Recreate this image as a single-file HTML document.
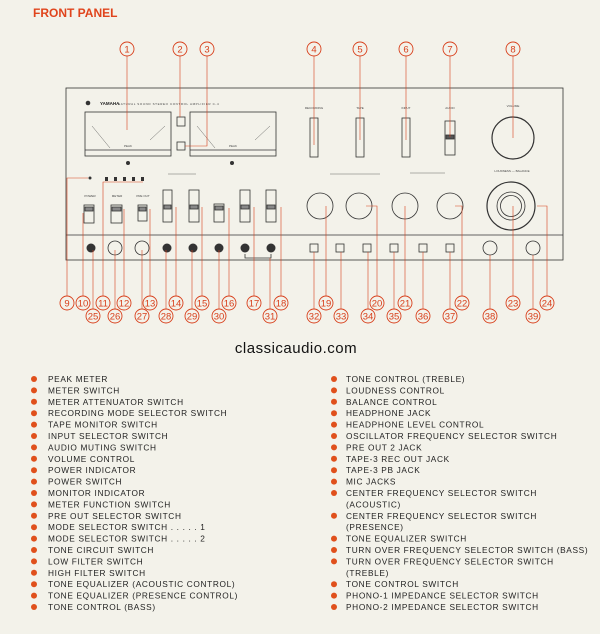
<!DOCTYPE html>
<html><head><meta charset="utf-8"><style>
html,body{margin:0;padding:0;background:#f3f2ea;}
svg{display:block}
.t{font-family:"Liberation Sans",sans-serif;font-size:8.3px;letter-spacing:0.65px;fill:#222}
.n{font-family:"Liberation Sans",sans-serif;font-size:9.5px;fill:#d8401c;text-anchor:middle}
.s{font-family:"Liberation Sans",sans-serif;font-size:3px;fill:#444;text-anchor:middle}
</style></head><body>
<svg width="600" height="634" viewBox="0 0 600 634" xmlns="http://www.w3.org/2000/svg">
<rect width="600" height="634" fill="#f3f2ea"/>
<text x="33" y="17" font-family="Liberation Sans,sans-serif" font-weight="bold" font-size="12" fill="#e0441c">FRONT PANEL</text>

<g stroke="#333" fill="none" stroke-width="0.8">
<rect x="66" y="88" width="497" height="172"/>
<line x1="66" y1="235" x2="563" y2="235"/>
<rect x="85" y="112" width="86" height="44"/><line x1="85" y1="150" x2="171" y2="150"/>
<rect x="190" y="112" width="86" height="44"/><line x1="190" y1="150" x2="276" y2="150"/>
<rect x="177" y="117" width="8" height="9"/><rect x="177" y="142" width="8" height="8"/>
<rect x="310" y="118" width="8" height="39"/><rect x="356" y="118" width="8" height="39"/>
<rect x="402" y="118" width="8" height="39"/><rect x="445" y="121" width="10" height="34"/>
<rect x="446" y="135" width="8" height="4" fill="#555"/>
<circle cx="513" cy="138" r="21" stroke-width="1.2"/>
<rect x="84" y="205" width="10" height="18"/><rect x="111" y="205" width="11" height="18"/>
<rect x="138" y="205" width="9" height="16"/>
<rect x="163" y="190" width="9" height="32"/><rect x="189" y="190" width="10" height="32"/>
<rect x="214" y="204" width="10" height="18"/>
<rect x="240" y="190" width="10" height="32"/><rect x="266" y="190" width="10" height="32"/>
<rect x="164" y="205" width="7" height="4" fill="#888"/><rect x="190" y="205" width="8" height="4" fill="#888"/>
<rect x="215" y="206" width="8" height="4" fill="#888"/><rect x="241" y="205" width="8" height="4" fill="#888"/>
<rect x="267" y="205" width="8" height="4" fill="#888"/><rect x="85" y="207" width="8" height="4" fill="#888"/>
<rect x="112" y="207" width="9" height="4" fill="#888"/><rect x="139" y="207" width="7" height="4" fill="#888"/>
<circle cx="320" cy="206" r="13"/><circle cx="359" cy="206" r="13"/>
<circle cx="405" cy="206" r="13"/><circle cx="450" cy="206" r="13"/>
<circle cx="511" cy="206" r="24" stroke-width="1.2"/><circle cx="511" cy="206" r="14"/><circle cx="511" cy="206" r="10.5"/>
<circle cx="115" cy="248" r="7"/><circle cx="142" cy="248" r="7"/>
<circle cx="490" cy="248" r="7"/><circle cx="533" cy="248" r="7"/>
<rect x="310" y="244" width="8" height="8"/><rect x="336" y="244" width="8" height="8"/>
<rect x="363" y="244" width="8" height="8"/><rect x="390" y="244" width="8" height="8"/>
<rect x="419" y="244" width="8" height="8"/><rect x="446" y="244" width="8" height="8"/>
<path d="M245 254 V258 H271 V254"/>
</g>
<g fill="#333">
<circle cx="91" cy="248" r="4.5"/><circle cx="167" cy="248" r="4.5"/><circle cx="193" cy="248" r="4.5"/>
<circle cx="219" cy="248" r="4.5"/><circle cx="245" cy="248" r="4.5"/><circle cx="271" cy="248" r="4.5"/>
<circle cx="88" cy="103" r="2.3"/><circle cx="128" cy="163" r="2"/><circle cx="232" cy="163" r="2"/>
<circle cx="90" cy="178" r="1.5"/>
<rect x="105" y="177" width="3" height="4"/><rect x="114" y="177" width="3" height="4"/><rect x="123" y="177" width="3" height="4"/><rect x="132" y="177" width="3" height="4"/><rect x="141" y="177" width="3" height="4"/>
</g>
<g stroke="#444" stroke-width="0.4">
<line x1="92" y1="126" x2="110" y2="148"/><line x1="165" y1="126" x2="150" y2="140"/>
<line x1="197" y1="126" x2="215" y2="148"/><line x1="270" y1="126" x2="255" y2="140"/>
<line x1="168" y1="174" x2="196" y2="174"/><line x1="330" y1="174" x2="380" y2="174"/><line x1="410" y1="173" x2="445" y2="173"/>
</g>
<text x="100" y="105" font-family="Liberation Sans,sans-serif" font-size="4.5" font-weight="bold" fill="#222">YAMAHA</text>
<text x="118" y="105" font-family="Liberation Sans,sans-serif" font-size="3" fill="#444" letter-spacing="0.6">NATURAL SOUND STEREO CONTROL AMPLIFIER C-4</text>
<text x="128" y="147" class="s">PEAK</text><text x="233" y="147" class="s">PEAK</text>
<text x="314" y="109" class="s">RECORDING</text><text x="360" y="109" class="s">TAPE</text><text x="406" y="109" class="s">INPUT</text><text x="450" y="109" class="s">AUDIO</text><text x="513" y="107" class="s">VOLUME</text>
<text x="512" y="172" class="s">LOUDNESS — BALANCE</text><text x="90" y="197" class="s">POWER</text><text x="117" y="197" class="s">METER</text><text x="143" y="197" class="s">PRE OUT</text>

<g stroke="#d8401c" stroke-width="0.6" fill="none">
<path d="M127 56V130"/><path d="M180 56V117"/><path d="M207 56V146H185"/>
<path d="M314 56V145"/><path d="M360 56V140"/><path d="M406 56V140"/><path d="M450 56V137"/><path d="M513 56V138"/>
<path d="M67 296V178H88"/><path d="M83 296V213"/><path d="M103 296V182H143"/><path d="M124 296V209"/><path d="M150 296V209"/>
<path d="M176 296V207"/><path d="M202 296V207"/><path d="M229 296V208"/><path d="M254 296V207"/><path d="M281 296V207"/>
<path d="M326 296V206"/><path d="M377 296V206H366"/><path d="M405 296V206"/><path d="M462 296V206H455"/><path d="M513 296V206"/><path d="M547 296V206H537"/>
<path d="M93 309V250"/><path d="M115 309V250"/><path d="M142 309V250"/><path d="M166 309V250"/><path d="M192 309V250"/><path d="M219 309V250"/><path d="M270 309V258"/>
<path d="M314 309V252"/><path d="M341 309V252"/><path d="M368 309V252"/><path d="M394 309V252"/><path d="M423 309V252"/><path d="M450 309V252"/><path d="M490 309V255"/><path d="M533 309V255"/>
</g>
<g fill="#f3f2ea" stroke="#d8401c" stroke-width="0.9">
<circle cx="127" cy="49" r="7"/><circle cx="180" cy="49" r="7"/><circle cx="207" cy="49" r="7"/><circle cx="314" cy="49" r="7"/><circle cx="360" cy="49" r="7"/><circle cx="406" cy="49" r="7"/><circle cx="450" cy="49" r="7"/><circle cx="513" cy="49" r="7"/>
<circle cx="67" cy="303" r="7"/><circle cx="83" cy="303" r="7"/><circle cx="103" cy="303" r="7"/><circle cx="124" cy="303" r="7"/><circle cx="150" cy="303" r="7"/><circle cx="176" cy="303" r="7"/><circle cx="202" cy="303" r="7"/><circle cx="229" cy="303" r="7"/><circle cx="254" cy="303" r="7"/><circle cx="281" cy="303" r="7"/><circle cx="326" cy="303" r="7"/><circle cx="377" cy="303" r="7"/><circle cx="405" cy="303" r="7"/><circle cx="462" cy="303" r="7"/><circle cx="513" cy="303" r="7"/><circle cx="547" cy="303" r="7"/>
<circle cx="93" cy="316" r="7"/><circle cx="115" cy="316" r="7"/><circle cx="142" cy="316" r="7"/><circle cx="166" cy="316" r="7"/><circle cx="192" cy="316" r="7"/><circle cx="219" cy="316" r="7"/><circle cx="270" cy="316" r="7"/><circle cx="314" cy="316" r="7"/><circle cx="341" cy="316" r="7"/><circle cx="368" cy="316" r="7"/><circle cx="394" cy="316" r="7"/><circle cx="423" cy="316" r="7"/><circle cx="450" cy="316" r="7"/><circle cx="490" cy="316" r="7"/><circle cx="533" cy="316" r="7"/>
</g>
<g>
<text x="127" y="52.5" class="n">1</text><text x="180" y="52.5" class="n">2</text><text x="207" y="52.5" class="n">3</text><text x="314" y="52.5" class="n">4</text><text x="360" y="52.5" class="n">5</text><text x="406" y="52.5" class="n">6</text><text x="450" y="52.5" class="n">7</text><text x="513" y="52.5" class="n">8</text>
<text x="67" y="306.5" class="n">9</text><text x="83" y="306.5" class="n">10</text><text x="103" y="306.5" class="n">11</text><text x="124" y="306.5" class="n">12</text><text x="150" y="306.5" class="n">13</text><text x="176" y="306.5" class="n">14</text><text x="202" y="306.5" class="n">15</text><text x="229" y="306.5" class="n">16</text><text x="254" y="306.5" class="n">17</text><text x="281" y="306.5" class="n">18</text><text x="326" y="306.5" class="n">19</text><text x="377" y="306.5" class="n">20</text><text x="405" y="306.5" class="n">21</text><text x="462" y="306.5" class="n">22</text><text x="513" y="306.5" class="n">23</text><text x="547" y="306.5" class="n">24</text>
<text x="93" y="319.5" class="n">25</text><text x="115" y="319.5" class="n">26</text><text x="142" y="319.5" class="n">27</text><text x="166" y="319.5" class="n">28</text><text x="192" y="319.5" class="n">29</text><text x="219" y="319.5" class="n">30</text><text x="270" y="319.5" class="n">31</text><text x="314" y="319.5" class="n">32</text><text x="341" y="319.5" class="n">33</text><text x="368" y="319.5" class="n">34</text><text x="394" y="319.5" class="n">35</text><text x="423" y="319.5" class="n">36</text><text x="450" y="319.5" class="n">37</text><text x="490" y="319.5" class="n">38</text><text x="533" y="319.5" class="n">39</text>
</g>

<text x="296" y="353" text-anchor="middle" font-family="Liberation Sans,sans-serif" font-size="15" fill="#111" letter-spacing="0.5">classicaudio.com</text>

<g fill="#e0501c">
<circle cx="34" cy="379" r="3"/><circle cx="34" cy="390.4" r="3"/><circle cx="34" cy="401.8" r="3"/><circle cx="34" cy="413.2" r="3"/><circle cx="34" cy="424.6" r="3"/><circle cx="34" cy="436" r="3"/><circle cx="34" cy="447.4" r="3"/><circle cx="34" cy="458.8" r="3"/><circle cx="34" cy="470.2" r="3"/><circle cx="34" cy="481.6" r="3"/><circle cx="34" cy="493" r="3"/><circle cx="34" cy="504.4" r="3"/><circle cx="34" cy="515.8" r="3"/><circle cx="34" cy="527.2" r="3"/><circle cx="34" cy="538.6" r="3"/><circle cx="34" cy="550" r="3"/><circle cx="34" cy="561.4" r="3"/><circle cx="34" cy="572.8" r="3"/><circle cx="34" cy="584.2" r="3"/><circle cx="34" cy="595.6" r="3"/><circle cx="34" cy="607" r="3"/>
<circle cx="334" cy="379" r="3"/><circle cx="334" cy="390.4" r="3"/><circle cx="334" cy="401.8" r="3"/><circle cx="334" cy="413.2" r="3"/><circle cx="334" cy="424.6" r="3"/><circle cx="334" cy="436" r="3"/><circle cx="334" cy="447.4" r="3"/><circle cx="334" cy="458.8" r="3"/><circle cx="334" cy="470.2" r="3"/><circle cx="334" cy="481.6" r="3"/><circle cx="334" cy="493" r="3"/><circle cx="334" cy="515.8" r="3"/><circle cx="334" cy="538.6" r="3"/><circle cx="334" cy="550" r="3"/><circle cx="334" cy="561.4" r="3"/><circle cx="334" cy="584.2" r="3"/><circle cx="334" cy="595.6" r="3"/><circle cx="334" cy="607" r="3"/>
</g>
<g>
<text x="48" y="382" class="t">PEAK METER</text>
<text x="48" y="393.4" class="t">METER SWITCH</text>
<text x="48" y="404.8" class="t">METER ATTENUATOR SWITCH</text>
<text x="48" y="416.2" class="t">RECORDING MODE SELECTOR SWITCH</text>
<text x="48" y="427.6" class="t">TAPE MONITOR SWITCH</text>
<text x="48" y="439" class="t">INPUT SELECTOR SWITCH</text>
<text x="48" y="450.4" class="t">AUDIO MUTING SWITCH</text>
<text x="48" y="461.8" class="t">VOLUME CONTROL</text>
<text x="48" y="473.2" class="t">POWER INDICATOR</text>
<text x="48" y="484.6" class="t">POWER SWITCH</text>
<text x="48" y="496" class="t">MONITOR INDICATOR</text>
<text x="48" y="507.4" class="t">METER FUNCTION SWITCH</text>
<text x="48" y="518.8" class="t">PRE OUT SELECTOR SWITCH</text>
<text x="48" y="530.2" class="t">MODE SELECTOR SWITCH . . . . . 1</text>
<text x="48" y="541.6" class="t">MODE SELECTOR SWITCH . . . . . 2</text>
<text x="48" y="553" class="t">TONE CIRCUIT SWITCH</text>
<text x="48" y="564.4" class="t">LOW FILTER SWITCH</text>
<text x="48" y="575.8" class="t">HIGH FILTER SWITCH</text>
<text x="48" y="587.2" class="t">TONE EQUALIZER (ACOUSTIC CONTROL)</text>
<text x="48" y="598.6" class="t">TONE EQUALIZER (PRESENCE CONTROL)</text>
<text x="48" y="610" class="t">TONE CONTROL (BASS)</text>
<text x="346" y="382" class="t">TONE CONTROL (TREBLE)</text>
<text x="346" y="393.4" class="t">LOUDNESS CONTROL</text>
<text x="346" y="404.8" class="t">BALANCE CONTROL</text>
<text x="346" y="416.2" class="t">HEADPHONE JACK</text>
<text x="346" y="427.6" class="t">HEADPHONE LEVEL CONTROL</text>
<text x="346" y="439" class="t">OSCILLATOR FREQUENCY SELECTOR SWITCH</text>
<text x="346" y="450.4" class="t">PRE OUT 2 JACK</text>
<text x="346" y="461.8" class="t">TAPE-3 REC OUT JACK</text>
<text x="346" y="473.2" class="t">TAPE-3 PB JACK</text>
<text x="346" y="484.6" class="t">MIC JACKS</text>
<text x="346" y="496" class="t">CENTER FREQUENCY SELECTOR SWITCH</text>
<text x="346" y="507.4" class="t">(ACOUSTIC)</text>
<text x="346" y="518.8" class="t">CENTER FREQUENCY SELECTOR SWITCH</text>
<text x="346" y="530.2" class="t">(PRESENCE)</text>
<text x="346" y="541.6" class="t">TONE EQUALIZER SWITCH</text>
<text x="346" y="553" class="t">TURN OVER FREQUENCY SELECTOR SWITCH (BASS)</text>
<text x="346" y="564.4" class="t">TURN OVER FREQUENCY SELECTOR SWITCH</text>
<text x="346" y="575.8" class="t">(TREBLE)</text>
<text x="346" y="587.2" class="t">TONE CONTROL SWITCH</text>
<text x="346" y="598.6" class="t">PHONO-1 IMPEDANCE SELECTOR SWITCH</text>
<text x="346" y="610" class="t">PHONO-2 IMPEDANCE SELECTOR SWITCH</text>
</g>
</svg>
</body></html>
